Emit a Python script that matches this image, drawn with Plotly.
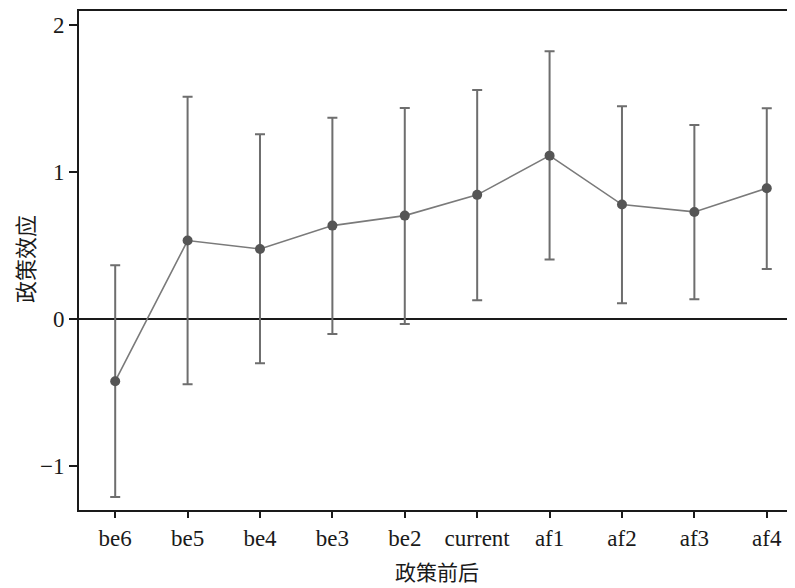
import plotly.graph_objects as go

periods = ["be6", "be5", "be4", "be3", "be2", "current", "af1", "af2", "af3", "af4"]
effect = [-0.424, 0.533, 0.476, 0.635, 0.703, 0.844, 1.111, 0.778, 0.728, 0.889]
ci_low = [-1.211, -0.444, -0.302, -0.102, -0.034, 0.127, 0.404, 0.107, 0.134, 0.340]
ci_high = [0.365, 1.512, 1.256, 1.369, 1.435, 1.558, 1.821, 1.447, 1.320, 1.433]

err_plus = [h - e for h, e in zip(ci_high, effect)]
err_minus = [e - l for e, l in zip(effect, ci_low)]

FONT = "Liberation Serif, Times New Roman, Noto Sans CJK SC, serif"
CJK = "Noto Sans CJK SC"

# page body has an 8px margin; the figure is sized so that the plot lands where the reference has it
OFF = 8
W, H = 795 - OFF, 588 - OFF
L, T, B = 79 - OFF, 11 - OFF, 588 - 510
PW, PH = W - L, H - T - B

fig = go.Figure()
fig.add_trace(go.Scatter(
    x=periods, y=effect,
    mode="lines+markers",
    line=dict(color="#7a7a7a", width=1.6),
    marker=dict(color="#555555", size=10),
    error_y=dict(type="data", symmetric=False, array=err_plus, arrayminus=err_minus,
                 color="#6e6e6e", thickness=2, width=5),
    showlegend=False,
))

fig.update_layout(
    width=W, height=H,
    margin=dict(l=L, r=0, t=T, b=B),
    plot_bgcolor="white", paper_bgcolor="white",
    font=dict(family=FONT, size=23, color="#1a1a1a"),
    xaxis=dict(
        type="category", range=[-0.5, 9.39], automargin=False,
        showline=True, linecolor="#1a1a1a", linewidth=2, mirror=True,
        ticks="outside", ticklen=6, tickwidth=1.5, tickcolor="#1a1a1a",
        showgrid=False, zeroline=False,
    ),
    yaxis=dict(
        range=[-1.30, 2.095], tickvals=[-1, 0, 1, 2], automargin=False,
        showline=True, linecolor="#1a1a1a", linewidth=2, mirror=False,
        ticks="outside", ticklen=8, tickwidth=1.5, tickcolor="#1a1a1a",
        showgrid=False, zeroline=True, zerolinecolor="#1a1a1a", zerolinewidth=1.8,
    ),
    annotations=[
        dict(text="政策前后", xref="paper", yref="paper", x=(437 - 79) / PW, y=0,
             yshift=-(571 - 510), showarrow=False, xanchor="center", yanchor="middle",
             borderpad=0, font=dict(family=CJK, size=21, color="#1a1a1a")),
        dict(text="政策效应", xref="paper", yref="paper", x=0, y=(510 - 259) / PH,
             xshift=-(79 - 24), showarrow=False, xanchor="center", yanchor="middle",
             borderpad=0, textangle=-90, font=dict(family=CJK, size=22, color="#1a1a1a")),
    ],
)

fig.write_html("out.html")
